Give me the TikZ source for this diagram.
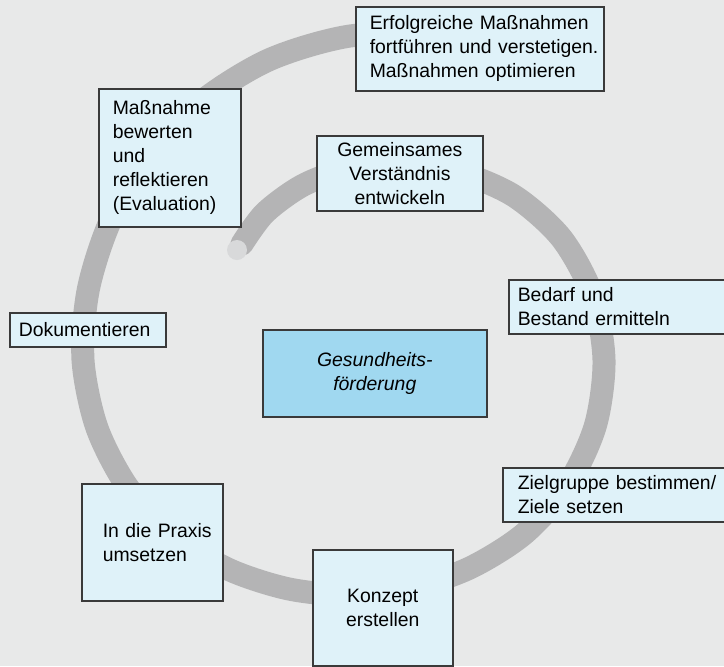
\documentclass[tikz,border=0pt]{standalone}
\usepackage{fontspec}
\setmainfont{Liberation Sans}
\usetikzlibrary{positioning}
\definecolor{bgcol}{HTML}{E8E9E9}
\definecolor{stagecol}{HTML}{DFF2F9}
\definecolor{corecol}{HTML}{A0D8F0}
\definecolor{framecol}{HTML}{3A3A3A}
\definecolor{bandcol}{HTML}{B4B4B5}
\definecolor{capcol}{HTML}{D8D9DA}

\begin{document}
\begin{tikzpicture}[x=0.5pt,y=-0.5pt,
    stage/.style={draw=framecol, fill=stagecol, line width=0.8pt, anchor=north west,
      inner xsep=0pt, inner ysep=0pt, align=left, font=\fontsize{9.7}{12}\selectfont},
    lead/.style={execute at begin node={\setlength{\leftskip}{#1}}},
    core/.style={stage, fill=corecol, align=center, font=\fontsize{9.7}{12}\selectfont\itshape},
    band/.style={draw=bandcol, line width=11.5pt, line cap=round}]
    \useasboundingbox (0,0) rectangle (724,666);
    \clip (0,0) rectangle (724,666);
    \fill[bgcol] (0,0) rectangle (724,666);

    % spiral band, polar around the middle
    \begin{scope}[shift={(350,360)}]
      \draw[band] plot[smooth] coordinates {
        (-133:158.5) (-120:170) (-105:181) (-90:192) (-75:204) (-60:217) (-45:232)
        (-30:244) (-15:251) (0:254) (15:254) (30:251) (45:246) (60:240) (75:236)
        (90:235) (105:237) (120:242) (135:249) (150:256) (165:262) (180:267)
        (195:271) (210:277) (225:286) (240:298) (255:311) (270:324) (285:337)};
    \end{scope}
    \fill[capcol] (237,250) circle (5pt);

    \node[stage, lead=7pt, text width=124pt, minimum height=42pt] (erfolg) at (355,6)
      {Erfolgreiche Maßnahmen\\fortführen und verstetigen.\\Maßnahmen optimieren};
    \node[stage, lead=7pt, text width=71pt, minimum height=69pt] (bewerten) at (98,88)
      {Maßnahme\\bewerten\\und\\reflektieren\\(Evaluation)};
    \node[stage, align=center, text width=75pt, inner xsep=4pt, minimum height=37.5pt] (verstaendnis) at (316,135)
      {Gemeinsames\\Verständnis\\entwickeln};
    \node[stage, lead=4.5pt, text width=125pt, minimum height=27pt] (bedarf) at (508,279)
      {Bedarf und\\Bestand ermitteln};
    \node[stage, lead=4.5pt, text width=78pt, minimum height=17pt] (doku) at (9,312)
      {Dokumentieren};
    \node[core, text width=104pt, inner xsep=4pt, minimum height=43.5pt] (gesund) at (262,329)
      {Gesundheits-\\förderung};
    \node[stage, lead=7.5pt, text width=125pt, minimum height=27pt] (ziel) at (502,467)
      {Zielgruppe bestimmen/\\Ziele setzen};
    \node[stage, lead=10.5pt, text width=70.5pt, minimum height=58.5pt] (praxis) at (81,483)
      {In die Praxis\\umsetzen};
    \node[stage, align=center, text width=62pt, inner xsep=4pt, minimum height=58pt] (konzept) at (312,549)
      {Konzept\\erstellen};
\end{tikzpicture}
\end{document}
